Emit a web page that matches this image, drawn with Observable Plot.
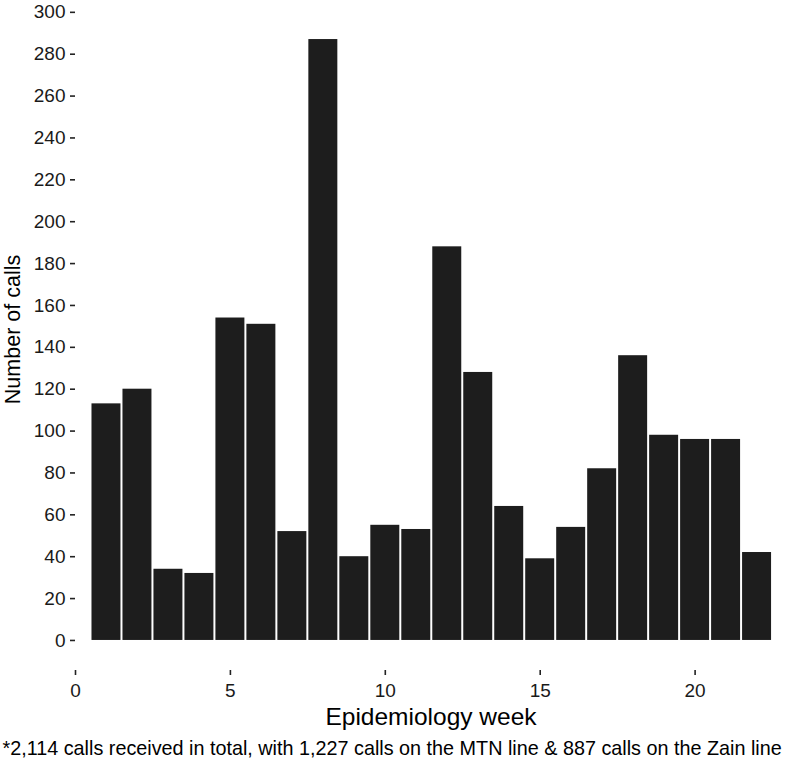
<!DOCTYPE html>
<html>
<head>
<meta charset="utf-8">
<script src="https://cdn.jsdelivr.net/npm/d3@7"></script>
<script src="https://cdn.jsdelivr.net/npm/@observablehq/plot@0.6"></script>
<style>
  html, body { margin: 0; padding: 0; background: white; }
  #chart svg { display: block; }
</style>
</head>
<body>
<div id="chart"></div>
<script>
const weeks = [1, 2, 3, 4, 5, 6, 7, 8, 9, 10, 11, 12, 13, 14, 15, 16, 17, 18, 19, 20, 21, 22];
const calls = [113, 120, 34, 32, 154, 151, 52, 287, 40, 55, 53, 188, 128, 64, 39, 54, 82, 136, 98, 96, 96, 42];
const xTicks = [0, 5, 10, 15, 20];
const yTicks = [0, 20, 40, 60, 80, 100, 120, 140, 160, 180, 200, 220, 240, 260, 280, 300];
const xTitle = "Epidemiology week";
const yTitle = "Number of calls";
const caption = "*2,114 calls received in total, with 1,227 calls on the MTN line & 887 calls on the Zain line";

const data = weeks.map((w, i) => ({week: w, calls: calls[i]}));
const font = "'Liberation Sans', Arial, Helvetica, sans-serif";

const chart = Plot.plot({
  width: 787,
  height: 762,
  marginTop: 9,
  marginBottom: 92,
  marginLeft: 75,
  marginRight: 1,
  style: {fontFamily: font, fontSize: "19px", color: "#1a1a1a", background: "white", overflow: "visible"},
  x: {domain: [0, 22.95], label: null},
  y: {domain: [-14.35, 301.35], label: null},
  marks: [
    Plot.rectY(data, {
      x1: d => d.week - 0.5,
      x2: d => d.week + 0.5,
      y: "calls",
      fill: "#1d1d1d",
      insetLeft: 1,
      insetRight: 1
    }),
    Plot.axisY({ticks: yTicks, tickSize: 5, tickPadding: 5, fontSize: 19, label: null, stroke: "#222", strokeWidth: 1.6}),
    Plot.axisX({ticks: xTicks, tickSize: 5, tickPadding: 8, fontSize: 19, label: null, stroke: "#222", strokeWidth: 1.6}),
    Plot.text([xTitle], {frameAnchor: "bottom", dy: 47, fontSize: 24.5, fill: "#000", lineAnchor: "middle", textAnchor: "middle"}),
    Plot.text([yTitle], {frameAnchor: "left", dx: -62, dy: -10.5, rotate: -90, fontSize: 21.5, fill: "#000", lineAnchor: "middle", textAnchor: "middle"}),
    Plot.text([caption], {frameAnchor: "left", dx: -73, dy: 409, fontSize: 19.8, fill: "#000", lineAnchor: "middle", textAnchor: "start"})
  ]
});
document.getElementById("chart").appendChild(chart);
</script>
</body>
</html>
